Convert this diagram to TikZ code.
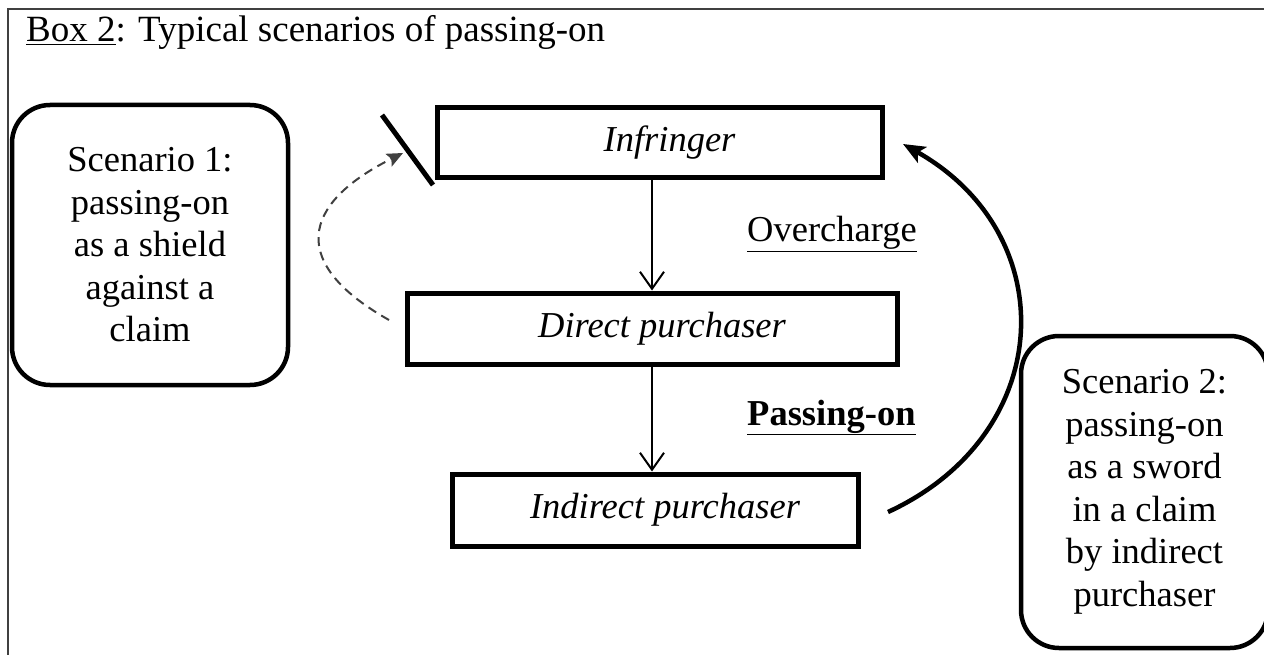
\documentclass[tikz,border=0pt]{standalone}
\usepackage{fontspec}
\setmainfont{Liberation Serif}
\usepackage{tikz}
\usetikzlibrary{arrows.meta,positioning,calc}

\begin{document}
\begin{tikzpicture}[
    x=1pt, y=-1pt,
    every node/.style={font=\fontsize{36.5}{42.5}\selectfont},
    partybox/.style={draw, line width=5pt, inner sep=0pt, execute at begin node={\hspace*{20pt}}, font=\fontsize{36.5}{42.5}\selectfont\itshape},
    scenbox/.style={draw, line width=4.5pt, rounded corners=38pt, align=center, inner sep=0pt},
    flow/.style={-{Straight Barb[length=17pt,width=24pt]}, line width=2pt},
    shield/.style={-{Stealth[length=16pt,width=14pt,inset=3pt]}, dash pattern=on 9pt off 6pt, line width=2pt, draw=black!75, fill=none},
    sword/.style={-{Stealth[length=22pt,width=18pt,inset=5pt]}, line width=4.5pt},
    bar/.style={line width=5pt}
]
    \clip (0,0) rectangle (1264,655);
    \fill[white] (0,0) rectangle (1264,655);
    \draw[line width=2pt, black!75] (7.5,9) rectangle (1290,680);

    \node[anchor=base west, inner sep=0pt, font=\fontsize{37}{42}\selectfont] (title) at (26,42) {\underline{Box 2}: Typical scenarios of passing-on};

    % Scenarios
    \node[scenbox, minimum width=276pt, minimum height=280pt] (scen1) at (150,245) {Scenario 1:\\passing-on\\as a shield\\against a\\claim};
    \node[scenbox, minimum width=247pt, minimum height=312pt] (scen2) at (1144.5,492) {Scenario 2:\\passing-on\\as a sword\\in a claim\\by indirect\\purchaser};

    % Chain
    \node[partybox, minimum width=445pt, minimum height=70pt] (inf) at (659.5,143) {Infringer};
    \node[partybox, minimum width=490pt, minimum height=71pt] (dir) at (652,328.5) {Direct purchaser};
    \node[partybox, minimum width=406pt, minimum height=72pt] (ind) at (655,510) {Indirect purchaser};

    \draw[flow] (dir.north |- inf.south) -- (dir.north);
    \draw[flow] (dir.south) -- (dir.south |- ind.north);

    \node[anchor=base west, inner sep=0pt] (over) at (747,242) {\underline{Overcharge}};
    \node[anchor=base west, inner sep=0pt] (pass) at (747,425) {\underline{\textbf{Passing-on}}};

    % Shield
    \coordinate (shieldfrom) at (389,320);
    \coordinate (blocked) at (403,153);
    \draw[bar] (382,115) -- (433,185);
    \draw[shield] (shieldfrom) .. controls (289,263.6) and (300.2,204.4) .. (blocked);

    % Sword
    \coordinate (swordfrom) at (888,512);
    \coordinate (swordto) at (903,144);
    \draw[sword] (swordfrom) .. controls (1056.4,434.3) and (1064,234.7) .. (swordto);
\end{tikzpicture}
\end{document}
